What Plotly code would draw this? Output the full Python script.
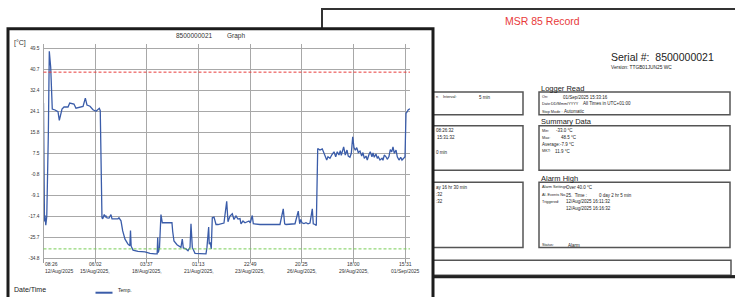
import pandas as pd
import plotly.graph_objects as go

# ---------------- data ----------------
START = "2025-08-12 08:26:32"
elapsed_h = [0, 0.7, 1.3, 2.0, 3.1, 4.4, 6.5, 7.8, 9.7, 11.8, 15.5, 19.5, 21.3, 24.9, 27.6, 33.0, 35.3, 38.4,
             41.0, 43.7, 49.1, 53.2, 56.3, 58.5, 62.6, 66.6, 70.7, 75.1, 76.4, 78.1, 78.7, 79.7, 81.8, 83.2,
             84.1, 85.5, 88.2, 90.8, 92.2, 96.2, 100.3, 101.6, 104.3, 106.6, 109.7, 113.7, 116.2, 117.1, 118.0,
             120.5, 127.2, 136.6, 143.3, 150.1, 153.0, 153.7, 154.5, 156.1, 158.1, 159.9, 162.2, 167.6, 172.9,
             173.9, 175.6, 179.7, 185.0, 186.8, 188.2, 191.8, 194.5, 197.2, 198.5, 200.3, 203.9, 210.6, 218.7,
             220.0, 222.3, 223.1, 224.5, 225.8, 227.2, 229.5, 232.2, 234.9, 238.9, 242.9, 246.6, 248.3, 251.0,
             254.1, 256.4, 259.1, 261.8, 264.5, 265.8, 268.5, 271.2, 273.9, 276.6, 278.3, 281.0, 282.4, 291.4,
             304.9, 318.3, 322.7, 324.6, 326.4, 333.1, 338.5, 342.9, 344.8, 346.2, 347.9, 350.6, 353.3, 356.0,
             358.7, 361.8, 363.1, 365.4, 367.2, 369.1, 370.4, 372.1, 375.2, 377.1, 381.2, 382.9, 385.6, 388.3,
             391.0, 393.3, 395.4, 397.7, 399.5, 400.8, 404.0, 406.2, 408.5, 410.2, 412.5, 414.3, 416.2, 417.9,
             419.7, 421.6, 423.7, 426.0, 428.3, 430.0, 431.8, 434.1, 435.8, 438.1, 439.8, 442.1, 443.5, 445.2,
             447.5, 449.3, 450.6, 452.9, 455.6, 456.9, 458.7, 461.0, 462.7, 465.0, 466.8, 468.7, 470.4, 472.2,
             474.5, 476.2, 478.5, 480.8, 482.5, 484.8, 486.6, 487.9, 489.2, 491.0, 493.3]
temp_c = [27.6, 10.0, -20.0, -17.5, -21.5, -18.0, 15.0, 48.4, 41.9, 25.2, 24.8, 24.1, 20.6, 25.2, 26.0, 26.0,
          27.6, 27.4, 27.2, 25.5, 26.0, 26.2, 29.6, 26.8, 26.3, 24.9, 24.3, 25.5, 24.5, -12.0, -18.5, -18.9,
          -17.2, -18.1, -17.8, -18.5, -18.6, -17.2, -18.9, -18.9, -18.9, -18.5, -19.7, -23.8, -27.1, -29.1,
          -29.7, -23.6, -29.9, -31.5, -32.0, -32.2, -32.8, -33.0, -33.0, -26.4, -32.5, -30.5, -17.2, -20.5,
          -20.5, -20.6, -20.5, -24.0, -27.8, -29.3, -30.4, -27.1, -30.6, -31.0, -31.7, -30.4, -20.9, -30.4,
          -32.8, -32.9, -33.0, -30.4, -22.2, -29.1, -28.4, -31.0, -18.5, -18.2, -21.2, -21.2, -21.0, -20.6,
          -11.9, -20.1, -17.8, -16.9, -19.2, -17.8, -19.0, -18.8, -20.9, -19.8, -20.5, -20.1, -19.8, -20.5,
          -17.6, -20.9, -21.2, -21.2, -21.2, -14.9, -20.9, -21.2, -21.2, -20.9, -15.8, -20.9, -19.2, -20.5,
          -20.8, -20.5, -20.9, -20.6, -14.9, -20.9, -21.2, -21.6, 9.3, 8.9, 8.7, 9.2, 7.6, 4.7, 6.0, 5.4, 6.9,
          8.0, 6.0, 8.0, 6.7, 8.5, 6.6, 10.0, 6.7, 8.7, 6.3, 5.8, 7.4, 14.0, 9.7, 8.7, 9.7, 7.7, 8.3, 6.3, 7.7,
          5.4, 6.3, 4.7, 6.9, 8.0, 6.0, 7.6, 5.8, 7.1, 5.4, 6.0, 4.7, 5.4, 4.6, 6.7, 6.0, 5.0, 6.1, 8.9, 8.0,
          10.0, 7.4, 8.7, 6.0, 4.7, 5.8, 4.7, 5.4, 6.0, 23.5, 23.9, 24.9, 25.3]

ALARM_HIGH = 40.0
ALARM_LOW = -31.0

y_tick_labels = ["-34.8", "-25.7", "-17.4", "-9.1", "-0.8", "7.5", "15.8", "24.1", "32.4", "40.7", "49.5"]
Y_MIN, Y_MAX = -34.8, 49.5
TICK_STEP_H = 69.583
x_tick_times = ["08:26", "06:02", "03:37", "01:13", "22:49", "20:25", "18:00", "15:31"]
x_tick_dates = ["12/Aug/2025", "15/Aug/2025,", "18/Aug/2025,", "21/Aug/2025,", "23/Aug/2025,",
                "26/Aug/2025,", "29/Aug/2025,", "01/Sep/2025"]

# ---------------- geometry helpers ----------------
W, H = 735, 297
FONT = "Liberation Sans, Arial, sans-serif"
NB = "\u00a0"


def X(p):
    return p / W


def Y(p):
    return 1 - p / H


start = pd.Timestamp(START)
xs = [start + pd.Timedelta(hours=h) for h in elapsed_h]
tick_vals = [start + pd.Timedelta(hours=TICK_STEP_H * k) for k in range(len(x_tick_times))]
x_end = start + pd.Timedelta(hours=493.3)
n = len(y_tick_labels)
y_tick_vals = [Y_MIN + (Y_MAX - Y_MIN) * k / (n - 1) for k in range(n)]

fig = go.Figure()
fig.add_trace(go.Scatter(x=xs, y=temp_c, mode="lines", line=dict(color="#3a5ca9", width=1.3),
                         hoverinfo="skip", showlegend=False))

shapes = []
ann = []


def rect(x0, y0, x1, y1, color="#444", width=1.5, fill="rgba(0,0,0,0)", layer="below"):
    shapes.append(dict(type="rect", xref="paper", yref="paper", x0=X(x0), x1=X(x1), y0=Y(y0), y1=Y(y1),
                       line=dict(color=color, width=width), fillcolor=fill, layer=layer))


def hline(x0, x1, y, color="#333", width=1.5, layer="below"):
    shapes.append(dict(type="line", xref="paper", yref="paper", x0=X(x0), x1=X(x1), y0=Y(y), y1=Y(y),
                       line=dict(color=color, width=width), layer=layer))


def text(t, x, y, size=4.5, color="#222", xanchor="left"):
    ann.append(dict(text=t.replace("  ", NB + NB), x=X(x), y=Y(y), xref="paper", yref="paper",
                    showarrow=False, xanchor=xanchor, yanchor="middle", borderpad=0,
                    font=dict(family=FONT, size=size, color=color)))


LB = 3.8   # label font size in boxes
VL = 4.5   # value font size in boxes

# back page
rect(322, 9, 760, 279, color="#333", width=2, fill="white")
for (x0, y0, x1, y1) in [(420, 93, 523, 116), (539, 93, 730, 116), (420, 127, 523, 172), (539, 127, 730, 172),
                         (420, 184, 523, 250), (539, 184, 730, 250), (420, 263, 731, 278)]:
    rect(x0, y0, x1, y1, color="#555", width=1.5)
hline(420, 760, 279.5, color="#222", width=3)
# front chart frame
rect(8, 29, 433, 320, color="#1c1c1c", width=3, fill="white")

# threshold lines
shapes.append(dict(type="line", xref="x domain", yref="y", x0=0, x1=1, y0=ALARM_HIGH, y1=ALARM_HIGH,
                   line=dict(color="#e83a3a", width=1, dash="3px,2px"), layer="above"))
shapes.append(dict(type="line", xref="x domain", yref="y", x0=0, x1=1, y0=ALARM_LOW, y1=ALARM_LOW,
                   line=dict(color="#77cc55", width=1, dash="3px,2px"), layer="above"))
# legend sample
hline(95.5, 112.5, 295.7, color="#3a5ca9", width=2, layer="above")

# back page texts
text("MSR 85 Record", 542, 21, size=10.5, color="#e83a3a", xanchor="center")
text("Serial #:  8500000021", 610, 58, size=10.5, color="#222")
text("Version: TTGB01JUN25 WC", 610, 68, size=4.8)
text("Logger Read", 540, 89, size=7.5)
text("Summary Data", 540, 123, size=7.5)
text("Alarm High", 540, 180, size=7.5)

text("On:", 541, 98, LB); text("01/Sep/2025 15:33:16", 562, 98, VL)
text("Date:DD/Mmm/YYYY", 541, 105, LB); text("All Times in UTC+01:00", 582, 105, VL)
text("Stop Mode :", 541, 113, LB); text("Automatic", 563, 113, VL)

text("Min:", 541, 132, LB); text("-33.0 °C", 555, 132, VL)
text("Max:", 541, 139, LB); text("48.5 °C", 560, 139, VL)
text("Average:-7.9 °C", 541, 146, VL)
text("MKT:", 541, 153, LB); text("11.9 °C", 554, 153, VL)

text("Alarm Settings:", 541, 189, LB); text("Over 40.0 °C", 565, 189, VL)
text("Al. Events No.:", 541, 197, LB); text("25.  Time :", 565, 197, VL); text("0 day 2 hr 5 min", 598, 197, VL)
text("Triggered:", 541, 204, LB); text("12/Aug/2025 16:11:32", 565, 204, VL)
text("12/Aug/2025 16:16:32", 565, 211, VL)
text("Status:", 541, 248, LB); text("Alarm", 567, 248, VL)

text("n", 435, 98, LB); text("Interval:", 442, 98, LB); text("5 min", 478, 98, VL)
text("08:26:32", 435, 132, VL); text("15:31:32", 436, 139, VL); text("0 min", 435, 154, VL)
text("ay 16 hr 30 min", 435, 189, VL); text(":32", 435, 196, VL); text(":32", 435, 204, VL)

# chart frame texts
text("8500000021", 194, 36, size=6.5, color="#333", xanchor="center")
text("Graph", 236, 36, size=6.5, color="#333", xanchor="center")
text("[°C]", 13, 43, size=7, color="#333")
text("Date/Time", 13, 292.5, size=7, color="#222")
text("Temp.", 117, 293, size=5, color="#222")

# x tick labels (axis-referenced)
for i, (tv, tt, td) in enumerate(zip(tick_vals, x_tick_times, x_tick_dates)):
    xa = "left" if i == 0 else "center"
    for lab, yy in ((tt, 266.7), (td, 273.3)):
        ann.append(dict(text=lab, x=tv, xref="x", y=Y(yy), yref="paper", showarrow=False, xanchor=xa,
                        yanchor="middle", borderpad=0, font=dict(family=FONT, size=5, color="#333")))

fig.update_layout(
    width=W, height=H, margin=dict(l=0, r=0, t=0, b=0),
    paper_bgcolor="white", plot_bgcolor="white", showlegend=False,
    shapes=shapes, annotations=ann,
    xaxis=dict(domain=[X(43.5), X(410)], range=[start, x_end], type="date",
               tickvals=tick_vals, showticklabels=False, ticks="outside", ticklen=4, tickcolor="#999",
               showgrid=True, gridcolor="#a8a8a8", gridwidth=1, zeroline=False,
               showline=True, linecolor="#a8a8a8", linewidth=1),
    yaxis=dict(domain=[Y(261), Y(44)], range=[Y_MIN, Y_MAX + 5 * (Y_MAX - Y_MIN) / 212],
               tickvals=y_tick_vals, ticktext=y_tick_labels, ticks="", ticklabelstandoff=2,
               tickfont=dict(family=FONT, size=4.8, color="#333"),
               showgrid=True, gridcolor="#a8a8a8", gridwidth=1, zeroline=False,
               showline=True, linecolor="#a8a8a8", linewidth=1),
)

fig.write_html("out.html", config={"displayModeBar": False},
               post_script="document.body.style.margin='0px';document.body.style.overflow='hidden';")
